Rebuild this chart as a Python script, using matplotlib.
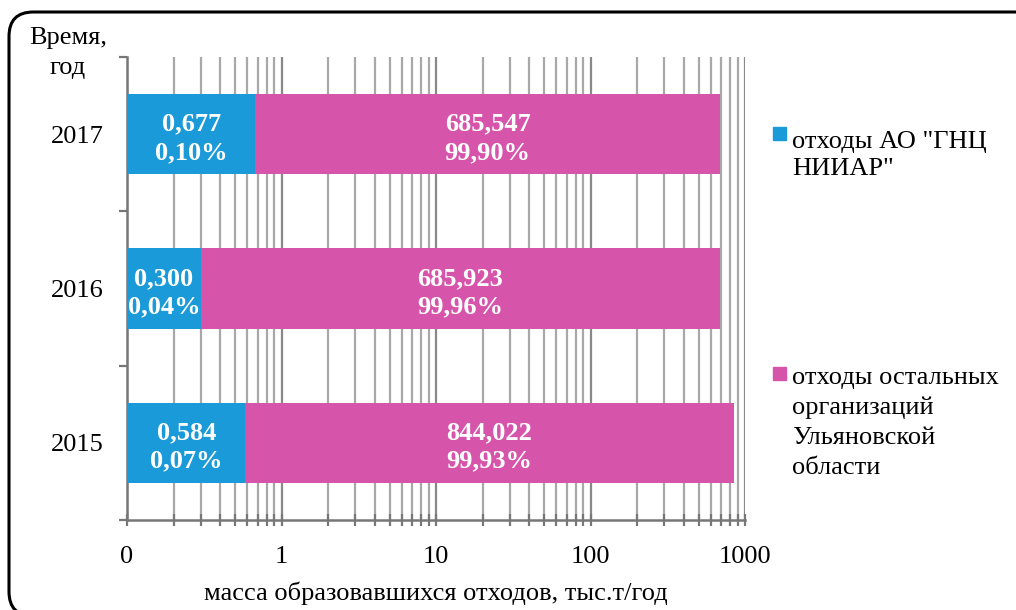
import matplotlib.pyplot as plt
import matplotlib.ticker as mticker
from matplotlib.patches import FancyBboxPatch, Rectangle

plt.rcParams['font.family'] = ['Liberation Serif', 'DejaVu Serif']

# Отходы по годам, тыс.т/год
годы = ['2015', '2016', '2017']
ниияр = [0.584, 0.300, 0.677]
остальные = [844.022, 685.923, 685.547]
доля_ниияр = [0.07, 0.04, 0.10]
доля_остальных = [99.93, 99.96, 99.90]

подписи = ['отходы АО "ГНЦ\nНИИАР"', 'отходы остальных\nорганизаций\nУльяновской\nобласти']
цвет_синий = '#1A9AD9'
цвет_розовый = '#D655AA'
начало = 0.1  # левый край логарифмической оси


def fmt(v, digits):
    return f'{v:.{digits}f}'.replace('.', ',')


def подпись(ax, x, y, текст):
    ax.annotate(текст, (x, y), xytext=(0, -3), textcoords='offset points', ha='center', va='center',
                color='white', fontsize=19, fontweight='bold', linespacing=1.3, zorder=4)


fig = plt.figure(figsize=(10.16, 6.1), dpi=100)
ax = fig.add_axes([0.125, 0.1475, 0.6083, 0.759])

y = list(range(len(годы)))
левые = [начало] * len(годы)
ширина_1 = [v - начало for v in ниияр]
ax.barh(y, ширина_1, left=левые, height=0.52, color=цвет_синий, zorder=3)
ax.barh(y, остальные, left=ниияр, height=0.52, color=цвет_розовый, zorder=3)

for i in y:
    x1 = (начало * ниияр[i]) ** 0.5
    подпись(ax, x1, i, f'{fmt(ниияр[i], 3)}\n{fmt(доля_ниияр[i], 2)}%')
    конец = ниияр[i] + остальные[i]
    x2 = (ниияр[i] * конец) ** 0.5
    подпись(ax, x2, i, f'{fmt(остальные[i], 3)}\n{fmt(доля_остальных[i], 2)}%')

ax.set_xscale('log')
ax.set_xlim(0.1, 1000)
ax.set_ylim(-0.5, 2.5)
ax.xaxis.set_major_locator(mticker.FixedLocator([0.1, 1, 10, 100, 1000]))
ax.xaxis.set_major_formatter(mticker.FixedFormatter(['0', '1', '10', '100', '1000']))
ax.xaxis.set_minor_locator(mticker.LogLocator(base=10, subs=range(2, 10)))
ax.xaxis.set_minor_formatter(mticker.NullFormatter())
ax.grid(True, which='major', axis='x', color='#888888', linewidth=1.6, zorder=1)
ax.grid(True, which='minor', axis='x', color='#a8a8a8', linewidth=1.6, zorder=1)

ax.set_yticks(y)
ax.set_yticklabels(годы)
ax.yaxis.set_minor_locator(mticker.FixedLocator([-0.5, 0.5, 1.5, 2.5]))
ax.tick_params(axis='y', which='major', length=0, pad=17, labelsize=19)
ax.tick_params(axis='y', which='minor', length=6, width=1.6, color='#777777')
ax.tick_params(axis='x', which='both', direction='inout', length=9, width=1.6,
               color='#777777', labelsize=19, pad=14)

for s in ['top', 'right']:
    ax.spines[s].set_visible(False)
for s in ['left', 'bottom']:
    ax.spines[s].set_color('#777777')
    ax.spines[s].set_linewidth(1.8)

ax.set_xlabel('масса образовавшихся отходов, тыс.т/год', fontsize=19, labelpad=10)
fig.text(0.067, 0.913, 'Время,\nгод', ha='center', va='center', fontsize=19, linespacing=1.45)

# легенда справа
fig.patches.append(Rectangle((773 / 1016, 1 - 140 / 610), 13 / 1016, 13 / 610,
                             transform=fig.transFigure, color=цвет_синий))
fig.text(792 / 1016, 1 - 131 / 610, подписи[0], ha='left', va='top', fontsize=19,
         linespacing=1.3, transform=fig.transFigure)
fig.patches.append(Rectangle((773 / 1016, 1 - 380 / 610), 13 / 1016, 13 / 610,
                             transform=fig.transFigure, color=цвет_розовый))
fig.text(792 / 1016, 1 - 367 / 610, подписи[1], ha='left', va='top', fontsize=19,
         linespacing=1.45, transform=fig.transFigure)

# рамка со скруглёнными углами (правый и нижний края за пределами рисунка);
# почти прозрачная заливка нужна, чтобы Agg не обрезал кривые на краю холста
рамка = FancyBboxPatch((9 / 1016, -6 / 610), 1030 / 1016, 604 / 610,
                       boxstyle='round,pad=0,rounding_size=0.024', transform=fig.transFigure,
                       facecolor=(1, 1, 1, 0.001), edgecolor='black', linewidth=2.2,
                       mutation_aspect=1016 / 610)
fig.patches.append(рамка)

fig.savefig('out.png', dpi=100)
